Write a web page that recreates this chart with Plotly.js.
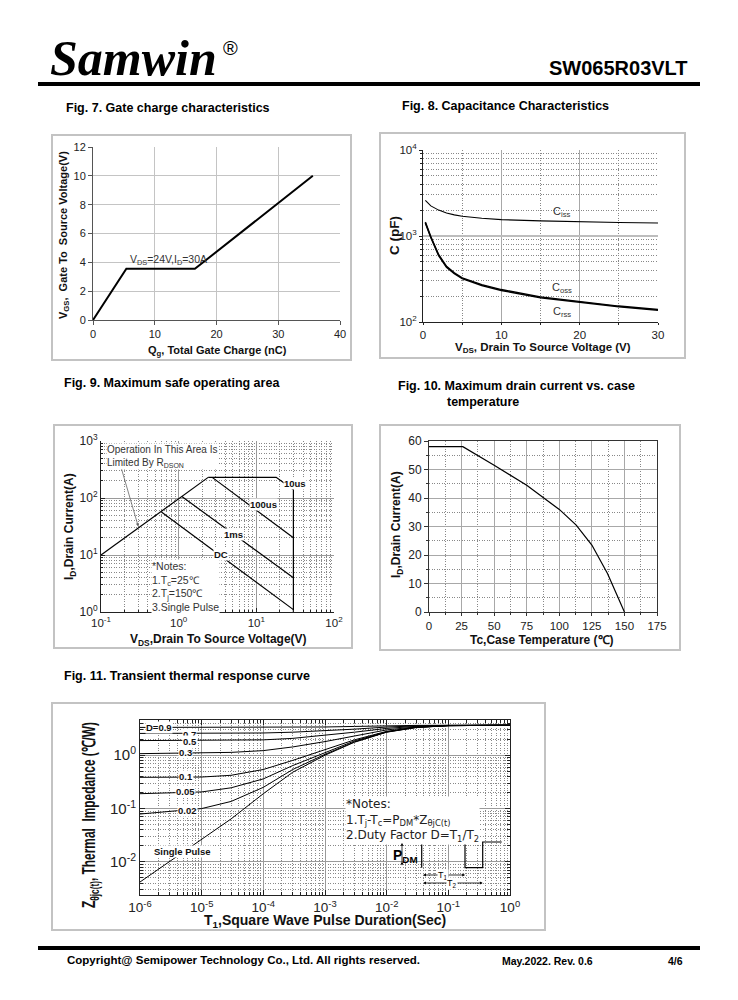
<!DOCTYPE html>
<html><head><meta charset="utf-8">
<script src="https://cdn.plot.ly/plotly-3.0.1.min.js"></script>
<style>html,body{margin:0;padding:0;background:#fff}#chart{width:738px;height:1000px}</style>
</head><body><div id="chart"></div>
<script>
// ---------- Fig. 7 Gate charge ----------
const qgCharge = [0, 5.4, 16.5, 35.6];
const vgsVolt  = [0, 3.55, 3.55, 10];
const fig7XTicks = [0, 10, 20, 30, 40];
const fig7YTicks = [0, 2, 4, 6, 8, 10, 12];

// ---------- Fig. 8 Capacitance ----------
const vdsCap = [0.3, 1, 2, 3, 4, 5, 7.5, 10, 15, 20, 25, 30];
const ciss   = [2600, 2240, 2000, 1850, 1760, 1700, 1610, 1550, 1500, 1460, 1435, 1415];
const coss   = [1450, 980, 605, 443, 372, 326, 272, 238, 196, 172, 153, 140];
const crss   = [1420, 960, 592, 434, 364, 319, 266, 233, 192, 168, 150, 137];
const fig8XTicks = [0, 10, 20, 30];
const fig8XMinor = [5, 15, 25];
const fig8YTicks = [100, 1000, 10000];
const fig8YText  = ['10<sup>2</sup>', '10<sup>3</sup>', '10<sup>4</sup>'];

// ---------- Fig. 9 SOA ----------
const soaRdsV   = [0.1, 2.4];       const soaRdsI   = [10, 230];
const soa10usV  = [2.4, 18, 30, 30]; const soa10usI  = [230, 230, 140, 1];
const soa100usV = [2.7, 30];        const soa100usI = [230, 20];
const soa1msV   = [1.1, 30];        const soa1msI   = [106, 4];
const soaDcV    = [0.6, 30];        const soaDcI    = [57, 1.1];
const fig9XTicks = [0.1, 1, 10, 100];
const fig9XText  = ['10<sup>-1</sup>', '10<sup>0</sup>', '10<sup>1</sup>', '10<sup>2</sup>'];
const fig9YTicks = [1, 10, 100, 1000];
const fig9YText  = ['10<sup>0</sup>', '10<sup>1</sup>', '10<sup>2</sup>', '10<sup>3</sup>'];

// ---------- Fig. 10 Id vs Tc ----------
const tcCase = [0, 26, 50, 75, 100, 113, 125, 137, 150];
const idCase = [58, 58, 51.5, 44.5, 36, 30.5, 23.5, 13.5, 0];

// ---------- Fig. 11 Transient thermal ----------
const tPulse  = [1e-6, 1e-5, 3e-5, 1e-4, 3e-4, 1e-3, 3e-3, 1e-2, 3e-2, 1e-1, 1];
const zSingle = [0.0042, 0.026, 0.064, 0.19, 0.48, 1.0, 1.75, 2.7, 3.3, 3.58, 3.65];
const zD002   = [0.079, 0.10, 0.136, 0.25, 0.54, 1.04, 1.78, 2.72, 3.32, 3.58, 3.65];
const zD005   = [0.19, 0.205, 0.245, 0.36, 0.64, 1.13, 1.85, 2.75, 3.33, 3.58, 3.65];
const zD01    = [0.385, 0.39, 0.42, 0.54, 0.8, 1.25, 1.94, 2.8, 3.35, 3.58, 3.65];
const zD03    = [1.07, 1.1, 1.13, 1.22, 1.43, 1.8, 2.3, 2.98, 3.4, 3.6, 3.65];
const zD05    = [1.88, 1.88, 1.89, 1.94, 2.07, 2.35, 2.7, 3.18, 3.48, 3.61, 3.65];
const zD07    = [2.56, 2.56, 2.57, 2.61, 2.7, 2.86, 3.08, 3.37, 3.55, 3.62, 3.65];
const zD09    = [3.32, 3.32, 3.32, 3.32, 3.34, 3.38, 3.46, 3.56, 3.62, 3.64, 3.65];
const fig11XTicks = [1e-6, 1e-5, 1e-4, 1e-3, 1e-2, 1e-1, 1];
const fig11XText  = ['10<sup>-6</sup>', '10<sup>-5</sup>', '10<sup>-4</sup>', '10<sup>-3</sup>', '10<sup>-2</sup>', '10<sup>-1</sup>', '10<sup>0</sup>'];
const fig11YTicks = [0.01, 0.1, 1];
const fig11YText  = ['10<sup>-2</sup>', '10<sup>-1</sup>', '10<sup>0</sup>'];

// ---------- helpers ----------
const W = 738, H = 1000;
const px = x => x / W, py = y => 1 - y / H;
const dom = (a, b) => [a / W, b / W];
const domy = (a, b) => [1 - b / H, 1 - a / H];
function logMinor(d0, d1) { const v = []; for (let d = d0; d < d1; d++) for (let k = 2; k <= 9; k++) v.push(k * Math.pow(10, d)); return v; }

const SANS = 'Liberation Sans, Arial, sans-serif';
const tickF = (s) => ({ family: SANS, size: s, color: '#222' });
const DOT = '1px,1.5px';

const line = (w) => ({ color: '#000', width: w });
const tr = (x, y, xa, ya, w) => ({ x, y, xaxis: xa, yaxis: ya, type: 'scatter', mode: 'lines', line: line(w), hoverinfo: 'skip' });

const data = [
  tr(qgCharge, vgsVolt, 'x', 'y', 2),
  tr(vdsCap, ciss, 'x2', 'y2', 1.1),
  tr(vdsCap, coss, 'x2', 'y2', 1.5),
  tr(vdsCap, crss, 'x2', 'y2', 1.5),
  tr(soaRdsV, soaRdsI, 'x3', 'y3', 1.2),
  tr(soa10usV, soa10usI, 'x3', 'y3', 1.2),
  tr(soa100usV, soa100usI, 'x3', 'y3', 1.2),
  tr(soa1msV, soa1msI, 'x3', 'y3', 1.2),
  tr(soaDcV, soaDcI, 'x3', 'y3', 1.2),
  tr(tcCase, idCase, 'x4', 'y4', 1.2),
  tr(tPulse, zSingle, 'x5', 'y5', 1),
  tr(tPulse, zD002, 'x5', 'y5', 1),
  tr(tPulse, zD005, 'x5', 'y5', 1),
  tr(tPulse, zD01, 'x5', 'y5', 1),
  tr(tPulse, zD03, 'x5', 'y5', 1),
  tr(tPulse, zD05, 'x5', 'y5', 1),
  tr(tPulse, zD07, 'x5', 'y5', 1),
  tr(tPulse, zD09, 'x5', 'y5', 1)
];

const dotGrid = (vals, extra) => Object.assign({ tickmode: 'array', tickvals: vals, showgrid: true, gridcolor: '#888', griddash: DOT, gridwidth: 1 }, extra || {});

const layout = {
  width: W, height: H, margin: { l: 0, r: 0, t: 0, b: 0 },
  paper_bgcolor: '#fff', plot_bgcolor: 'rgba(0,0,0,0)',
  showlegend: false, hovermode: false,
  font: { family: SANS, color: '#222' },
  // Fig 7
  xaxis: { domain: dom(93, 340), anchor: 'y', range: [0, 40], tickmode: 'array', tickvals: fig7XTicks,
    showgrid: true, gridcolor: '#c4c4c4', zeroline: false, showline: true, linecolor: '#555', ticks: 'outside', ticklen: 4, tickcolor: '#555', tickfont: tickF(11) },
  yaxis: { domain: domy(147, 320), anchor: 'x', range: [0, 12], tickmode: 'array', tickvals: fig7YTicks,
    showgrid: true, gridcolor: '#c4c4c4', zeroline: false, showline: true, linecolor: '#555', ticks: 'outside', ticklen: 4, tickcolor: '#555', tickfont: tickF(11) },
  // Fig 8
  xaxis2: { domain: dom(423, 658), anchor: 'y2', range: [0, 30], tickmode: 'array', tickvals: fig8XTicks,
    showgrid: true, gridcolor: '#a8a8a8', zeroline: false, showline: true, linecolor: '#222', ticks: 'outside', ticklen: 2, tickcolor: '#222', tickfont: tickF(11.5),
    minor: dotGrid(fig8XMinor, { ticks: 'outside', ticklen: 2, tickcolor: '#222' }) },
  yaxis2: { domain: domy(150, 322), anchor: 'x2', type: 'log', range: [2, 4], tickmode: 'array', tickvals: fig8YTicks, ticktext: fig8YText,
    showgrid: true, gridcolor: '#bdbdbd', gridwidth: 2, zeroline: false, showline: true, linecolor: '#222', ticks: 'outside', ticklen: 3, tickcolor: '#222', tickfont: tickF(11.5),
    minor: dotGrid(logMinor(2, 4), { ticks: 'outside', ticklen: 2, tickcolor: '#222' }) },
  // Fig 9
  xaxis3: { domain: dom(101, 334), anchor: 'y3', type: 'log', range: [-1, 2], tickmode: 'array', tickvals: fig9XTicks, ticktext: fig9XText,
    showgrid: true, gridcolor: '#9a9a9a', zeroline: false, showline: true, linecolor: '#222', ticks: 'inside', ticklen: 4, tickcolor: '#222', tickfont: tickF(11.5),
    minor: dotGrid(logMinor(-1, 2), { ticks: 'inside', ticklen: 2, tickcolor: '#222' }) },
  yaxis3: { domain: domy(441, 612), anchor: 'x3', type: 'log', range: [0, 3], tickmode: 'array', tickvals: fig9YTicks, ticktext: fig9YText,
    showgrid: true, gridcolor: '#9a9a9a', zeroline: false, showline: true, linecolor: '#222', ticks: 'inside', ticklen: 4, tickcolor: '#222', tickfont: tickF(12),
    minor: dotGrid(logMinor(0, 3), { ticks: 'inside', ticklen: 2, tickcolor: '#222' }) },
  // Fig 10
  xaxis4: { domain: dom(429, 657), anchor: 'y4', range: [0, 175], dtick: 25, tick0: 0,
    showgrid: true, gridcolor: '#a8a8a8', zeroline: false, showline: true, mirror: true, linecolor: '#333', ticks: 'outside', ticklen: 3, tickcolor: '#333', tickfont: tickF(11.5),
    minor: { dtick: 12.5, showgrid: true, gridcolor: '#888', griddash: DOT, ticks: 'outside', ticklen: 2, tickcolor: '#333' } },
  yaxis4: { domain: domy(441, 612), anchor: 'x4', range: [0, 60], dtick: 10, tick0: 0,
    showgrid: true, gridcolor: '#a8a8a8', zeroline: false, showline: true, mirror: true, linecolor: '#333', ticks: 'outside', ticklen: 4, tickcolor: '#333', tickfont: tickF(12),
    minor: { dtick: 5, showgrid: true, gridcolor: '#888', griddash: DOT, ticks: 'outside', ticklen: 2, tickcolor: '#333' } },
  // Fig 11
  xaxis5: { domain: dom(140, 510), anchor: 'y5', type: 'log', range: [-6, 0], tickmode: 'array', tickvals: fig11XTicks, ticktext: fig11XText,
    showgrid: true, gridcolor: '#9a9a9a', zeroline: false, showline: true, mirror: 'allticks', linecolor: '#222', ticks: 'inside', ticklen: 5, tickcolor: '#222', tickfont: tickF(13.5),
    minor: dotGrid(logMinor(-6, 0), { ticks: 'inside', ticklen: 3, tickcolor: '#222' }) },
  yaxis5: { domain: domy(720, 895), anchor: 'x5', type: 'log', range: [-2.62, 0.66], tickmode: 'array', tickvals: fig11YTicks, ticktext: fig11YText,
    showgrid: true, gridcolor: '#9a9a9a', zeroline: false, showline: true, mirror: 'allticks', linecolor: '#222', ticks: 'inside', ticklen: 5, tickcolor: '#222', tickfont: tickF(15),
    minor: dotGrid(logMinor(-3, 1), { ticks: 'inside', ticklen: 3, tickcolor: '#222' }) },
  shapes: [],
  annotations: []
};

// frames / page rules
const box = (x0, y0, x1, y1) => ({ type: 'rect', xref: 'paper', yref: 'paper', x0: px(x0), x1: px(x1), y0: py(y1), y1: py(y0), line: { color: '#c3c3c3', width: 2 } });
layout.shapes.push(box(52, 135, 351, 360), box(380, 133, 685, 358), box(54, 425, 352, 648), box(380, 425, 680, 650), box(52, 703, 545, 930));
const hline = (x0, x1, y, w) => ({ type: 'line', xref: 'paper', yref: 'paper', x0: px(x0), x1: px(x1), y0: py(y), y1: py(y), line: { color: '#000', width: w } });
layout.shapes.push(hline(38, 700, 84, 4), hline(38, 700, 948, 4));

// pulse diagram (Fig 11 notes)
const pts = [[421.7, 867.7], [421.7, 842], [465, 842], [465, 867.7], [482.7, 867.7], [482.7, 842], [501.7, 842]];
layout.shapes.push({ type: 'path', xref: 'paper', yref: 'paper', path: pts.map((p, i) => (i ? 'L' : 'M') + px(p[0]) + ',' + py(p[1])).join(' '), line: { color: '#000', width: 1.2 } });
layout.shapes.push(hline(396, 408, 842, 0.8));

const A = layout.annotations;
const squeeze = {};
const txt = (x, y, t, o) => { A.push(Object.assign({ xref: 'paper', yref: 'paper', x: px(x), y: py(y), xanchor: 'center', yanchor: 'middle', text: t, showarrow: false, font: { family: SANS, size: 12, color: '#111' } }, o || {})); return A.length - 1; };

// header / footer
txt(48, 58, '<b><i>Samwin</i></b>', { xanchor: 'left', font: { family: 'Liberation Serif, Times New Roman, serif', size: 50, color: '#000' } });
txt(221, 48, '®', { xanchor: 'left', font: { family: SANS, size: 20, color: '#000' } });
txt(690, 68, '<b>SW065R03VLT</b>', { xanchor: 'right', font: { family: SANS, size: 20, color: '#000' } });
txt(65, 960, '<b>Copyright@ Semipower Technology Co., Ltd. All rights reserved.</b>', { xanchor: 'left', font: { family: SANS, size: 11.5, color: '#000' } });
txt(500, 961, '<b>May.2022. Rev. 0.6</b>', { xanchor: 'left', font: { family: SANS, size: 10.5, color: '#000' } });
txt(685, 961, '<b>4/6</b>', { xanchor: 'right', font: { family: SANS, size: 10.5, color: '#000' } });

// figure titles
const figT = (x, y, t) => txt(x, y, '<b>' + t + '</b>', { xanchor: 'left', font: { family: SANS, size: 12.5, color: '#000' } });
figT(64, 108, 'Fig. 7. Gate charge characteristics');
figT(400, 106, 'Fig. 8. Capacitance Characteristics');
figT(62, 383, 'Fig. 9. Maximum safe operating area');
figT(396, 386, 'Fig. 10. Maximum drain current vs. case');
figT(445, 402, 'temperature');
figT(62, 676, 'Fig. 11. Transient thermal response curve');

// axis titles
const axT = (x, y, t, s, rot) => txt(x, y, '<b>' + t + '</b>', { textangle: rot ? -90 : 0, font: { family: SANS, size: s, color: '#111' } });
axT(64, 235, 'V<sub>GS</sub>,  Gate To  Source Voltage(V)', 11, true);
axT(217, 351, 'Q<sub>g</sub>, Total Gate Charge (nC)', 11, false);
axT(394, 236, 'C (pF)', 13.5, true);
axT(543, 348, 'V<sub>DS</sub>, Drain To Source Voltage (V)', 11.5, false);
axT(70, 527, 'I<sub>D</sub>,Drain Current(A)', 12, true);
axT(218, 639.5, 'V<sub>DS</sub>,Drain To Source Voltage(V)', 12, false);
axT(397, 525, 'I<sub>D</sub>,Drain Current(A)', 12, true);
axT(542, 639.5, 'Tc,Case Temperature (℃)', 12, false);
squeeze[axT(90, 815, 'Z<sub>θjc(t)</sub>, Thermal  Impedance (℃/W)', 18, true)] = 0.66;
axT(325, 920.5, 'T<sub>1</sub>,Square Wave Pulse Duration(Sec)', 14, false);

// in-plot labels
const lab = (xr, yr, x, y, t, o) => A.push(Object.assign({ xref: xr, yref: yr, x, y, xanchor: 'center', yanchor: 'middle', text: t, showarrow: false, font: { family: SANS, size: 11, color: '#222' } }, o || {}));
// Fig 7
lab('x', 'y', 5.6, 4.15, 'V<sub>DS</sub>=24V,I<sub>D</sub>=30A', { xanchor: 'left', font: { family: SANS, size: 10.5, color: '#333' } });
// Fig 8
lab('x2', 'y2', 17.7, 3.28, 'C<sub>iss</sub>', { font: { family: SANS, size: 11, color: '#333' } });
lab('x2', 'y2', 17.7, 2.39, 'C<sub>oss</sub>', { font: { family: SANS, size: 11, color: '#333' } });
lab('x2', 'y2', 17.7, 2.12, 'C<sub>rss</sub>', { font: { family: SANS, size: 11, color: '#333' } });
// Fig 9
lab('x3', 'y3', -0.93, 2.725, 'Operation In This Area Is<br>Limited By R<sub>DSON</sub>', { xanchor: 'left', align: 'left', bgcolor: '#fff', borderpad: 0, font: { family: SANS, size: 10, color: '#333' } });
A.push({ xref: 'x3', yref: 'y3', x: -0.52, y: 1.5, ax: -0.74, ay: 2.53, axref: 'x3', ayref: 'y3', text: '', showarrow: true, arrowhead: 2, arrowsize: 0.8, arrowwidth: 0.8, arrowcolor: '#666' });
lab('x3', 'y3', 1.5, 2.26, '<b>10us</b>', { bgcolor: '#fff', borderpad: 0, font: { family: SANS, size: 9.5, color: '#111' } });
lab('x3', 'y3', 1.09, 1.88, '<b>100us</b>', { bgcolor: '#fff', borderpad: 0, font: { family: SANS, size: 9.5, color: '#111' } });
lab('x3', 'y3', 0.71, 1.36, '<b>1ms</b>', { bgcolor: '#fff', borderpad: 0, font: { family: SANS, size: 9.5, color: '#111' } });
lab('x3', 'y3', 0.54, 1.01, '<b>DC</b>', { bgcolor: '#fff', borderpad: 0, font: { family: SANS, size: 9.5, color: '#111' } });
const n9 = ['*Notes:', '1.T<sub>c</sub>=25℃', '2.T<sub>j</sub>=150℃', '3.Single Pulse'];
lab('x3', 'y3', -0.35, 0.445, n9.join('<br>'), { xanchor: 'left', align: 'left', bgcolor: '#fff', borderpad: 0, font: { family: SANS, size: 10.5, color: '#333' } });
// Fig 11
const dLabels = ['D=0.9', '0.7', '0.5', '0.3', '0.1', '0.05', '0.02', 'Single Pulse'];
const dLx = [-5.70, -5.19, -5.19, -5.26, -5.26, -5.27, -5.23, -5.31];
const dLy = [0.525, 0.395, 0.255, 0.056, -0.39, -0.675, -1.03, -1.80];
dLabels.forEach((t, i) => lab('x5', 'y5', dLx[i], dLy[i], '<b>' + t + '</b>', { bgcolor: '#fff', borderpad: 0, font: { family: SANS, size: 9.5, color: '#111' } }));
const n11 = ['*Notes:', '1.T<sub>j</sub>-T<sub>c</sub>=P<sub>DM</sub>*Z<sub>θjC(t)</sub>', '2.Duty Factor D=T<sub>1</sub>/T<sub>2</sub>'];
txt(345, 820, n11.join('<br>'), { xanchor: 'left', align: 'left', bgcolor: '#fff', borderpad: 0, font: { family: 'DejaVu Sans, sans-serif', size: 12, color: '#222' } });
txt(405, 856, '<b>P<sub>DM</sub></b>', { font: { family: SANS, size: 14, color: '#000' } });
const arr = (x, y, ax, ay) => A.push({ xref: 'paper', yref: 'paper', x: px(x), y: py(y), ax, ay, text: '', showarrow: true, arrowhead: 2, arrowsize: 0.7, arrowwidth: 0.8, arrowcolor: '#000', arrowside: 'end+start' });
arr(402, 843, 0, 24);
arr(465, 875, -43.3, 0);
arr(482.7, 883, -61, 0);
txt(443, 875, 'T<sub>1</sub>', { bgcolor: '#fff', borderpad: 0, font: { family: SANS, size: 9, color: '#000' } });
txt(452, 883, 'T<sub>2</sub>', { bgcolor: '#fff', borderpad: 0, font: { family: SANS, size: 9, color: '#000' } });

Plotly.newPlot('chart', data, layout, { staticPlot: true, displayModeBar: false }).then(() => {
  Object.keys(squeeze).forEach(k => {
    const g = document.querySelector('g.annotation[data-index="' + k + '"] text.annotation-text');
    if (g) { g.style.transformBox = 'fill-box'; g.style.transformOrigin = 'center'; g.style.transform = 'scaleX(' + squeeze[k] + ')'; }
  });
});
</script>
</body></html>
